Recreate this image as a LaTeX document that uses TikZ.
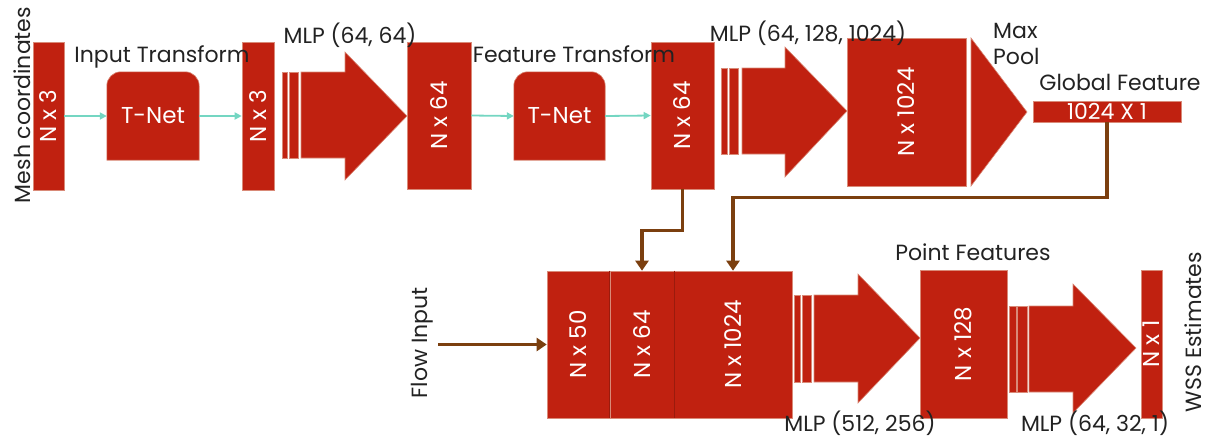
\documentclass[tikz,border=0pt]{standalone}
\usepackage{fontspec}
\setmainfont{Poppins}
\usetikzlibrary{arrows.meta,fit}

\definecolor{netred}{HTML}{C02110}
\definecolor{netedge}{HTML}{D98A78}
\definecolor{linkbrown}{HTML}{7B3F0F}
\definecolor{linkteal}{HTML}{74D6C2}
\definecolor{labgray}{HTML}{222222}

\tikzset{
  blk/.style={fill=netred, draw=netedge, line width=0.6pt},
  layer/.style={blk, inner sep=0pt},
  ghost/.style={inner sep=0pt},
  vlab/.style={text=white, rotate=90, font=\fontsize{23}{26}\selectfont},
  hlab/.style={text=white, font=\fontsize{23}{26}\selectfont},
  captext/.style={text=labgray, font=\fontsize{22}{26}\selectfont, inner sep=0pt},
  tealarrow/.style={draw=linkteal, line width=1.8pt, -{Triangle[length=7pt,width=7pt]}},
  brownarrow/.style={draw=linkbrown, line width=3.5pt, -{Triangle[length=10pt,width=13pt]}},
}

% block arrow: body from #1 between y=#2 and #3, head at #4 from y=#5 to #6, tip at (#7,#8)
\newcommand\blockarrow[8]{%
  \path[blk] (#1,#2) -- (#4,#2) -- (#4,#5) -- (#7,#8) -- (#4,#6) -- (#4,#3) -- (#1,#3) -- cycle;}
% two thin stripes in front of a block arrow
\newcommand\stripes[6]{%
  \path[blk] (#1,#5) rectangle (#2,#6);
  \path[blk] (#3,#5) rectangle (#4,#6);}

\begin{document}
\begin{tikzpicture}[x=1pt, y=-1pt]
\useasboundingbox (0,0) rectangle (1209,445);

% ---------- top row ----------
\node[layer, fit={(33,42) (64,190)}] (in3) {};
\node[vlab] (in3lab) at (in3.center) {N x 3};

\node[ghost, fit={(107,72) (199,160)}] (tnetA) {};
\path[blk] (tnetA.south west) [rounded corners=14pt] -- (tnetA.north west) -- (tnetA.north east) [sharp corners] -- (tnetA.south east) -- cycle;
\node[hlab] (tnetAlab) at (tnetA.center) {T-Net};

\node[layer, fit={(242,42) (274,190)}] (tr3) {};
\node[vlab] (tr3lab) at (tr3.center) {N x 3};

\stripes{282}{287}{289}{298.5}{72}{158}
\blockarrow{301}{72}{158}{345}{52}{180}{407}{116}

\node[layer, fit={(407,42) (471,189)}] (f64) {};
\node[vlab] (f64lab) at (f64.center) {N x 64};

\node[ghost, fit={(514,72) (605,160)}] (tnetB) {};
\path[blk] (tnetB.south west) [rounded corners=14pt] -- (tnetB.north west) -- (tnetB.north east) [sharp corners] -- (tnetB.south east) -- cycle;
\node[hlab] (tnetBlab) at (tnetB.center) {T-Net};

\node[layer, fit={(651,42) (714,189)}] (t64) {};
\node[vlab] (t64lab) at (t64.center) {N x 64};

\stripes{721}{727}{729}{738}{68}{154}
\blockarrow{742}{68}{154}{785}{47}{177}{847}{111}

\node[layer, fit={(847,38) (966,186)}] (f1024) {};
\node[vlab] (f1024lab) at (f1024.center) {N x 1024};

\path[blk] (971,38) -- (1027,112) -- (971,186) -- cycle;

\node[layer, fit={(1033,101) (1181,122)}] (glob) {};
\node[hlab, font=\fontsize{22}{24}\selectfont] (globlab) at (glob.center) {1024 X 1};

% ---------- bottom row ----------
\node[layer, fit={(547,271) (610,418)}] (c50) {};
\node[vlab] (c50lab) at (c50.center) {N x 50};
\node[layer, fit={(610,271) (674,418)}] (c64) {};
\node[vlab] (c64lab) at (c64.center) {N x 64};
\node[layer, fit={(674,271) (792,418)}] (c1024) {};
\node[vlab] (c1024lab) at (c1024.center) {N x 1024};
\draw[netred!80!black, line width=0.9pt] (c64.north west) -- (c64.south west);
\draw[netred!80!black, line width=0.9pt] (c64.north east) -- (c64.south east);

\stripes{794.5}{800}{802}{811.5}{295}{382}
\blockarrow{814}{295}{382}{858}{274}{403}{920}{338}

\node[layer, fit={(920,270) (1007,418)}] (p128) {};
\node[vlab] (p128lab) at (p128.center) {N x 128};

\stripes{1009}{1016}{1017.5}{1027}{306}{392}
\blockarrow{1029}{306}{392}{1073}{284}{413}{1136}{348}

\node[layer, fit={(1141,270) (1162,418)}] (wss) {};
\node[vlab] (wsslab) at (wss.center) {N x 1};

% ---------- connectors ----------
\draw[tealarrow] (in3.east) -- (tnetA.west);
\draw[tealarrow] (tnetA.east) -- (tr3.west);
\draw[tealarrow] (f64.east) -- (tnetB.west);
\draw[tealarrow] (tnetB.east) -- (t64.west);

\draw[brownarrow] (glob.south) -- ++(0,75) -| (c1024.north);
\draw[brownarrow] (t64.south) -- ++(0,41) -| (c64.north);
\coordinate (flowin) at (438,344.5);
\draw[brownarrow] (flowin) -- (c50.west);

% ---------- captions ----------
\node[captext, rotate=90] (meshcap) at (22,105) {Mesh coordinates};
\node[captext] (incap) at (162,57) {Input Transform};
\node[captext] (mlpA) at (350,35) {MLP (64, 64)};
\node[captext] (featcap) at (574,54) {Feature Transform};
\node[captext] (mlpB) at (808,33) {MLP (64, 128, 1024)};
\node[captext, anchor=west, align=left] (poolcap) at (993,44) {Max\\Pool};
\node[captext] (globcap) at (1120,82) {Global Feature};
\node[captext] (pointcap) at (973,252) {Point Features};
\node[captext] (mlpC) at (860,423) {MLP (512, 256)};
\node[captext] (mlpD) at (1095,423) {MLP (64, 32, 1)};
\node[captext, rotate=90] (flowcap) at (422,343) {Flow Input};
\node[captext, rotate=90] (wsscap) at (1193,332) {WSS Estimates};
\end{tikzpicture}
\end{document}
